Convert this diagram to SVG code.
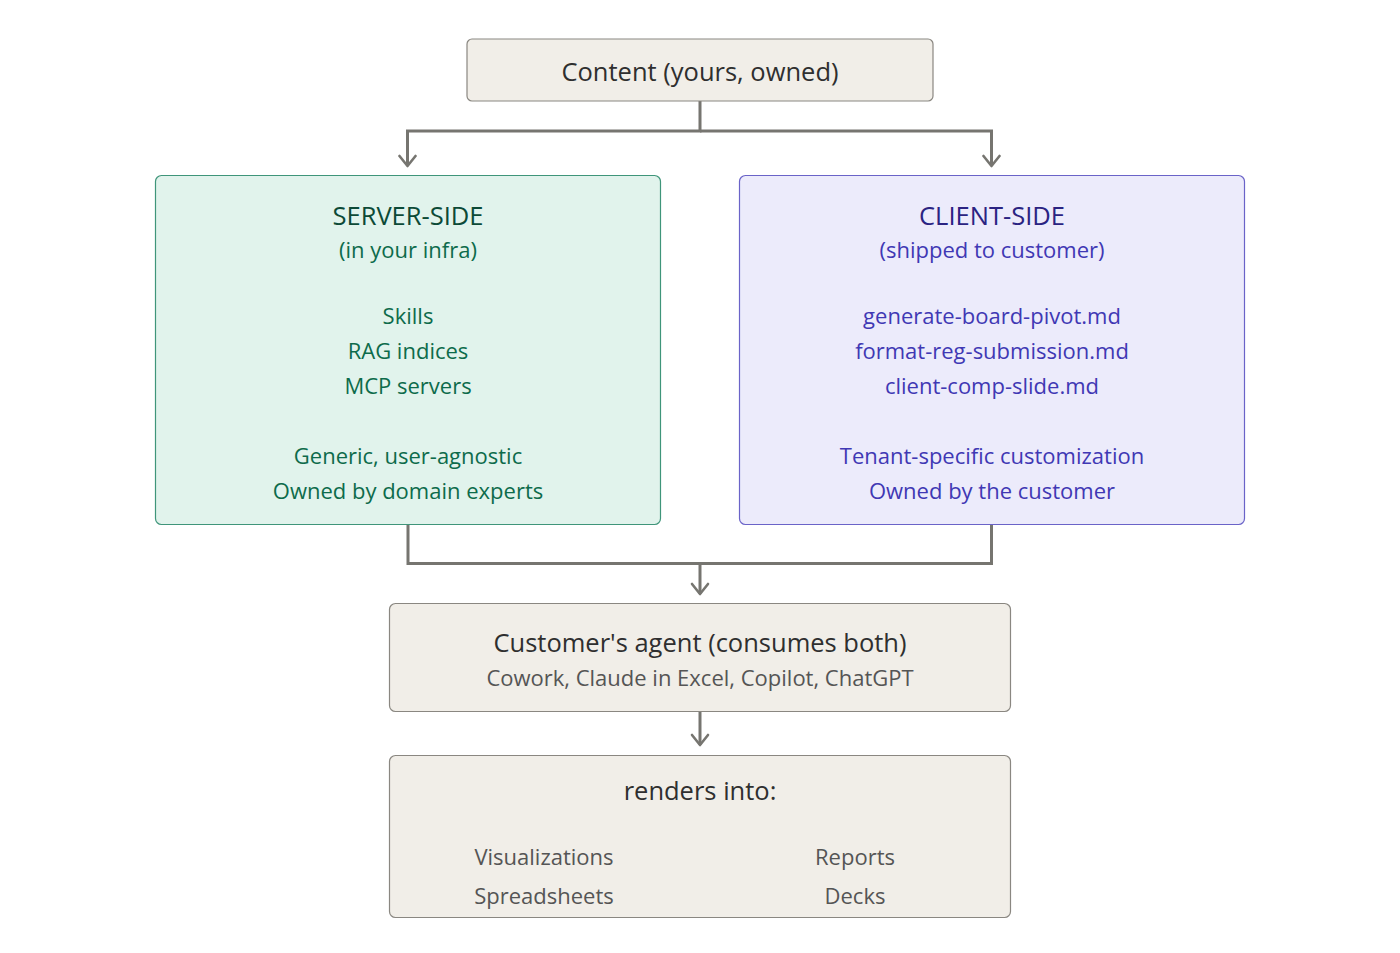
<svg xmlns="http://www.w3.org/2000/svg" width="1400" height="953" viewBox="0 0 1400 953">
<style>
text{font-family:"Open Sans","Noto Sans","Liberation Sans",sans-serif;text-anchor:middle}
.neutral{fill:#f1eee8;stroke:#8a8781;stroke-width:1.2}
.green{fill:#e1f3ec;stroke:#3f957a;stroke-width:1.2}
.purple{fill:#ecebfb;stroke:#6a63c8;stroke-width:1.2}
.t1{font-size:25.5px;fill:#2f2f2f}
.t2{font-size:22px;fill:#555}
.gt{font-size:25.5px;fill:#0c4a37}
.g{font-size:22px;fill:#0d6b4b}
.pt{font-size:25.5px;fill:#2a2382}
.p{font-size:22px;fill:#4038b4}
.con{fill:none;stroke:#767570;stroke-width:3}
</style>
<defs>
<marker id="arr" viewBox="0 0 14 20" refX="12" refY="10" markerWidth="14" markerHeight="20" markerUnits="userSpaceOnUse" orient="auto">
<path d="M2,2 L12,10 L2,18" fill="none" stroke="#767570" stroke-width="2.6" stroke-linecap="round" stroke-linejoin="round"/>
</marker>
</defs>
<rect width="1400" height="953" fill="#ffffff"/>
<g id="connectors">
<path class="con" d="M700,101 V131 H407.5 V166" marker-end="url(#arr)"/>
<path class="con" d="M700,131 H991.5 V166" marker-end="url(#arr)"/>
<path class="con" d="M408,524 V563.5 H991.5 V524"/>
<path class="con" d="M700,563 V594" marker-end="url(#arr)"/>
<path class="con" d="M700,712 V745" marker-end="url(#arr)"/>
</g>
<g id="content">
<rect class="neutral" x="467" y="39" width="466" height="62" rx="5"/>
<text class="t1" x="700" y="81">Content (yours, owned)</text>
</g>
<g id="server">
<rect class="green" x="155.5" y="175.5" width="505" height="349" rx="6"/>
<text class="gt" x="408" y="225">SERVER-SIDE</text>
<text class="g" x="408" y="258">(in your infra)</text>
<text class="g" x="408" y="324">Skills</text>
<text class="g" x="408" y="359">RAG indices</text>
<text class="g" x="408" y="394">MCP servers</text>
<text class="g" x="408" y="464">Generic, user-agnostic</text>
<text class="g" x="408" y="499">Owned by domain experts</text>
</g>
<g id="client">
<rect class="purple" x="739.5" y="175.5" width="505" height="349" rx="6"/>
<text class="pt" x="992" y="225">CLIENT-SIDE</text>
<text class="p" x="992" y="258">(shipped to customer)</text>
<text class="p" x="992" y="324">generate-board-pivot.md</text>
<text class="p" x="992" y="359">format-reg-submission.md</text>
<text class="p" x="992" y="394">client-comp-slide.md</text>
<text class="p" x="992" y="464">Tenant-specific customization</text>
<text class="p" x="992" y="499">Owned by the customer</text>
</g>
<g id="agent">
<rect class="neutral" x="389.5" y="603.5" width="621" height="108" rx="6"/>
<text class="t1" x="700" y="652">Customer's agent (consumes both)</text>
<text class="t2" x="700" y="686">Cowork, Claude in Excel, Copilot, ChatGPT</text>
</g>
<g id="renders">
<rect class="neutral" x="389.5" y="755.5" width="621" height="162" rx="6"/>
<text class="t1" x="700" y="800">renders into:</text>
<text class="t2" x="544" y="865">Visualizations</text>
<text class="t2" x="544" y="904">Spreadsheets</text>
<text class="t2" x="855" y="865">Reports</text>
<text class="t2" x="855" y="904">Decks</text>
</g>
</svg>
